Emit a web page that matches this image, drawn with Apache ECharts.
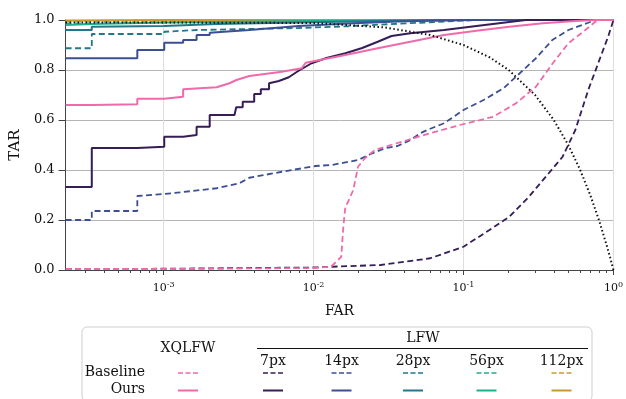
<!DOCTYPE html>
<html>
<head>
<meta charset="utf-8">
<script src="https://cdn.jsdelivr.net/npm/echarts@6/dist/echarts.min.js"></script>
<style>
  html, body { margin: 0; padding: 0; background: #fff; }
  #chart { width: 626px; height: 399px; }
</style>
</head>
<body>
<div id="chart"></div>
<script>
// FAR range of the plot (log x axis)
const farMin = 2.22e-4
const farMax = 1
const xDecades = [-3, -2, -1, 0]

// XQLFW
const farBaseXq = [2.22e-4, 1e-3, 0.01, 0.0131, 0.0153, 0.0158, 0.0163, 0.017, 0.0184, 0.0198, 0.022, 0.0256, 0.0327, 0.0423, 0.06, 0.0946, 0.158, 0.224, 0.304, 0.394, 0.501, 0.649, 0.756, 0.828, 1]
const tarBaseXq = [0.004, 0.004, 0.008, 0.013, 0.053, 0.173, 0.253, 0.273, 0.32, 0.413, 0.447, 0.48, 0.5, 0.52, 0.547, 0.58, 0.613, 0.667, 0.733, 0.827, 0.907, 0.96, 0.993, 1, 1]
const farOursXq = [2.22e-4, 3.32e-4, 3.32e-4, 6.68e-4, 6.68e-4, 1.01e-3, 1.01e-3, 1.35e-3, 1.35e-3, 2.26e-3, 2.75e-3, 3.06e-3, 3.73e-3, 6.15e-3, 8.33e-3, 8.86e-3, 0.0163, 0.0268, 0.0442, 0.0742, 0.122, 0.202, 0.338, 0.557, 0.756, 1]
const tarOursXq = [0.66, 0.66, 0.663, 0.663, 0.685, 0.685, 0.693, 0.693, 0.723, 0.731, 0.747, 0.76, 0.776, 0.793, 0.807, 0.829, 0.86, 0.887, 0.913, 0.94, 0.957, 0.973, 0.987, 0.996, 1, 1]

// LFW 7px
const farBase7 = [2.22e-4, 1e-3, 0.01, 0.0131, 0.028, 0.06, 0.1, 0.149, 0.202, 0.273, 0.37, 0.458, 0.557, 0.679, 0.791, 0.921, 1]
const tarBase7 = [0.004, 0.005, 0.01, 0.013, 0.02, 0.047, 0.093, 0.16, 0.213, 0.293, 0.387, 0.453, 0.56, 0.72, 0.827, 0.933, 1]
const farOurs7 = [2.22e-4, 3.32e-4, 3.32e-4, 6.68e-4, 6.68e-4, 1.01e-3, 1.01e-3, 1.35e-3, 1.35e-3, 1.66e-3, 1.66e-3, 2.03e-3, 2.03e-3, 2.97e-3, 3.05e-3, 3.05e-3, 3.37e-3, 3.37e-3, 4.02e-3, 4.02e-3, 4.45e-3, 4.45e-3, 5.05e-3, 5.05e-3, 5.87e-3, 6.84e-3, 7.76e-3, 9.7e-3, 0.0122, 0.0163, 0.0211, 0.0268, 0.0331, 0.0442, 0.0742, 0.122, 0.202, 0.261, 1]
const tarOurs7 = [0.332, 0.332, 0.488, 0.488, 0.493, 0.493, 0.533, 0.533, 0.54, 0.54, 0.573, 0.573, 0.62, 0.62, 0.627, 0.651, 0.651, 0.673, 0.673, 0.704, 0.704, 0.723, 0.723, 0.747, 0.756, 0.771, 0.793, 0.827, 0.848, 0.867, 0.888, 0.913, 0.936, 0.947, 0.96, 0.976, 0.992, 1, 1]

// LFW 14px
const farBase14 = [2.22e-4, 3.32e-4, 3.32e-4, 6.68e-4, 6.68e-4, 1.01e-3, 1.35e-3, 2.26e-3, 3.2e-3, 3.73e-3, 6.15e-3, 0.0103, 0.0132, 0.0198, 0.0241, 0.0298, 0.0363, 0.0442, 0.0515, 0.0573, 0.0742, 0.1, 0.136, 0.185, 0.224, 0.304, 0.391, 0.501, 0.679, 0.756, 1]
const tarBase14 = [0.2, 0.2, 0.236, 0.236, 0.296, 0.304, 0.312, 0.327, 0.347, 0.369, 0.393, 0.416, 0.42, 0.44, 0.464, 0.487, 0.496, 0.52, 0.547, 0.56, 0.587, 0.64, 0.68, 0.727, 0.773, 0.847, 0.92, 0.96, 0.989, 1, 1]
const farOurs14 = [2.22e-4, 6.68e-4, 6.68e-4, 1.01e-3, 1.01e-3, 1.35e-3, 1.35e-3, 1.66e-3, 1.66e-3, 2.03e-3, 2.03e-3, 3.73e-3, 7.96e-3, 0.017, 0.036, 0.066, 0.122, 1]
const tarOurs14 = [0.847, 0.847, 0.88, 0.88, 0.909, 0.909, 0.92, 0.92, 0.94, 0.94, 0.949, 0.96, 0.976, 0.986, 0.994, 0.998, 1, 1]

// LFW 28px
const farBase28 = [2.22e-4, 3.32e-4, 3.32e-4, 1.01e-3, 1.01e-3, 1.66e-3, 7.96e-3, 0.017, 0.036, 0.066, 0.122, 1]
const tarBase28 = [0.887, 0.887, 0.944, 0.944, 0.953, 0.96, 0.968, 0.975, 0.985, 0.992, 1, 1]
const farOurs28 = [2.22e-4, 3.32e-4, 3.32e-4, 1.01e-3, 2.26e-3, 7.96e-3, 0.036, 0.1, 1]
const tarOurs28 = [0.96, 0.96, 0.973, 0.976, 0.984, 0.99, 0.997, 1, 1]

// LFW 56px
const farBase56 = [2.22e-4, 1e-3, 0.01, 0.1, 1]
const tarBase56 = [0.986, 0.99, 0.995, 1, 1]
const farOurs56 = [2.22e-4, 3.32e-4, 1e-3, 0.01, 0.1, 1]
const tarOurs56 = [0.98, 0.984, 0.99, 0.996, 1, 1]

// LFW 112px
const farBase112 = [2.22e-4, 1e-3, 0.01, 1]
const tarBase112 = [0.995, 0.997, 1, 1]
const farOurs112 = [2.22e-4, 1e-3, 1]
const tarOurs112 = [0.998, 1, 1]

// chance reference (dotted)
const farRef = [2.22e-4, 1e-3, 0.01, 0.03, 0.06, 0.1, 0.15, 0.2, 0.3, 0.4, 0.5, 0.6, 0.7, 0.8, 0.9, 0.95, 1]
const tarRef = [0.99, 0.99, 0.988, 0.97, 0.94, 0.9, 0.85, 0.8, 0.7, 0.6, 0.5, 0.4, 0.3, 0.2, 0.1, 0.05, 0]

// legend table
const lfwCols = ['7px', '14px', '28px', '56px', '112px']
const rowNames = ['Baseline', 'Ours']

const colors = {
  xq: '#f06aa9',
  '7px': '#361d58',
  '14px': '#3c4f93',
  '28px': '#22788a',
  '56px': '#1fae8c',
  '112px': '#c89a2b'
}

const FONT = '"DejaVu Serif", "Liberation Serif", serif'
const DASH = [6, 3.5]

const toPts = (far, tar) => far.map((f, i) => [Math.log10(f), tar[i]])

const makeLine = (name, far, tar, color, dashed) => ({
  name,
  type: 'line',
  data: toPts(far, tar),
  showSymbol: false,
  symbol: 'none',
  silent: true,
  lineStyle: {
    color,
    width: dashed ? 1.8 : 2,
    type: dashed ? DASH : 'solid'
  }
})

// minor ticks 2..9 of each decade, in log10 units
const minorTicks = []
for (let d = -4; d < 0; d++) {
  for (let k = 2; k <= 9; k++) {
    const v = d + Math.log10(k)
    if (v > Math.log10(farMin)) minorTicks.push(v)
  }
}

const chart = echarts.init(document.getElementById('chart'), null, { renderer: 'canvas' })

const series = [
  makeLine('Ours 112px', farOurs112, tarOurs112, colors['112px'], false),
  makeLine('Baseline 112px', farBase112, tarBase112, colors['112px'], true),
  makeLine('Ours 56px', farOurs56, tarOurs56, colors['56px'], false),
  makeLine('Baseline 56px', farBase56, tarBase56, colors['56px'], true),
  makeLine('Baseline 28px', farBase28, tarBase28, colors['28px'], true),
  makeLine('Ours 28px', farOurs28, tarOurs28, colors['28px'], false),
  makeLine('Baseline 14px', farBase14, tarBase14, colors['14px'], true),
  makeLine('Ours 14px', farOurs14, tarOurs14, colors['14px'], false),
  makeLine('Baseline 7px', farBase7, tarBase7, colors['7px'], true),
  makeLine('Ours 7px', farOurs7, tarOurs7, colors['7px'], false),
  makeLine('Baseline XQLFW', farBaseXq, tarBaseXq, colors.xq, true),
  makeLine('Ours XQLFW', farOursXq, tarOursXq, colors.xq, false),
  {
    name: 'chance',
    type: 'line',
    data: toPts(farRef, tarRef),
    showSymbol: false,
    symbol: 'none',
    silent: true,
    lineStyle: { color: '#111', width: 2, type: [1.5, 2.5], cap: 'butt' }
  },
  // empty series so the minor-tick axis is laid out
  { type: 'line', xAxisIndex: 1, data: [], silent: true }
]

// legend table drawn as graphics
const colX = [273, 341.5, 413, 486.5, 561.5]
const rowY = [373, 390.5]
const legendEls = [
  {
    type: 'rect',
    shape: { x: 82, y: 327, width: 510, height: 74, r: 5 },
    style: { fill: '#fff', stroke: '#cfcfcf', lineWidth: 1 },
    z: 10
  },
  {
    type: 'text', x: 188, y: 348, z: 11,
    style: { text: 'XQLFW', font: '14px ' + FONT, fill: '#111', align: 'center', verticalAlign: 'middle' }
  },
  {
    type: 'text', x: 423, y: 338, z: 11,
    style: { text: 'LFW', font: '14px ' + FONT, fill: '#111', align: 'center', verticalAlign: 'middle' }
  },
  {
    type: 'line', z: 11,
    shape: { x1: 257, y1: 348.5, x2: 588, y2: 348.5 },
    style: { stroke: '#111', lineWidth: 1 }
  }
]
lfwCols.forEach((c, i) => {
  legendEls.push({
    type: 'text', x: colX[i], y: 361, z: 11,
    style: { text: c, font: '14px ' + FONT, fill: '#111', align: 'center', verticalAlign: 'middle' }
  })
})
rowNames.forEach((r, j) => {
  legendEls.push({
    type: 'text', x: 145, y: rowY[j] - 1, z: 11,
    style: { text: r, font: '14px ' + FONT, fill: '#111', align: 'right', verticalAlign: 'middle' }
  })
  const keys = ['xq'].concat(lfwCols)
  const xs = [188].concat(colX)
  keys.forEach((k, i) => {
    legendEls.push({
      type: 'line', z: 11,
      shape: { x1: xs[i] - 10, y1: rowY[j], x2: xs[i] + 10, y2: rowY[j] },
      style: {
        stroke: colors[k],
        lineWidth: j === 0 ? 1.5 : 2,
        lineDash: j === 0 ? [5, 2.5] : null
      }
    })
  })
})

const option = {
  animation: false,
  backgroundColor: '#fff',
  grid: { left: 64, right: 8, top: 20, bottom: 129, containLabel: false },
  xAxis: [
    {
      type: 'value',
      min: Math.log10(farMin),
      max: Math.log10(farMax),
      name: 'FAR',
      nameLocation: 'middle',
      nameGap: 34,
      nameTextStyle: { fontFamily: FONT, fontSize: 14, color: '#111' },
      axisLine: { show: true, onZero: false, lineStyle: { color: '#444', width: 1 } },
      axisTick: { show: true, inside: false, length: 5, customValues: xDecades, lineStyle: { color: '#444' } },
      axisLabel: {
        customValues: xDecades,
        margin: 11,
        formatter: (v) => '{b|10}{s|' + Math.round(v) + '}',
        rich: {
          b: { fontFamily: FONT, fontSize: 11, color: '#111', lineHeight: 14 },
          s: { fontFamily: FONT, fontSize: 8, color: '#111', lineHeight: 14, verticalAlign: 'top', padding: [0, 0, 5, 0] }
        }
      },
      splitLine: { show: true, lineStyle: { color: '#dedede', width: 1 } }
    },
    {
      type: 'value',
      min: Math.log10(farMin),
      max: Math.log10(farMax),
      position: 'bottom',
      axisLine: { show: false, onZero: false },
      axisTick: { show: true, inside: false, length: 3, customValues: minorTicks, lineStyle: { color: '#444' } },
      axisLabel: { show: false },
      splitLine: { show: false }
    }
  ],
  yAxis: {
    type: 'value',
    min: 0,
    max: 1,
    interval: 0.2,
    name: 'TAR',
    nameLocation: 'middle',
    nameGap: 38,
    nameTextStyle: { fontFamily: FONT, fontSize: 15, color: '#111' },
    axisLine: { show: true, onZero: false, lineStyle: { color: '#444', width: 1 } },
    axisTick: { show: true, inside: false, length: 7, lineStyle: { color: '#444' } },
    axisLabel: {
      margin: 11,
      fontFamily: FONT,
      fontSize: 13,
      color: '#111',
      formatter: (v) => v.toFixed(1)
    },
    splitLine: { show: true, lineStyle: { color: '#b5b5b5', width: 1 } }
  },
  series,
  graphic: { elements: legendEls }
}

chart.setOption(option)
</script>
</body>
</html>
